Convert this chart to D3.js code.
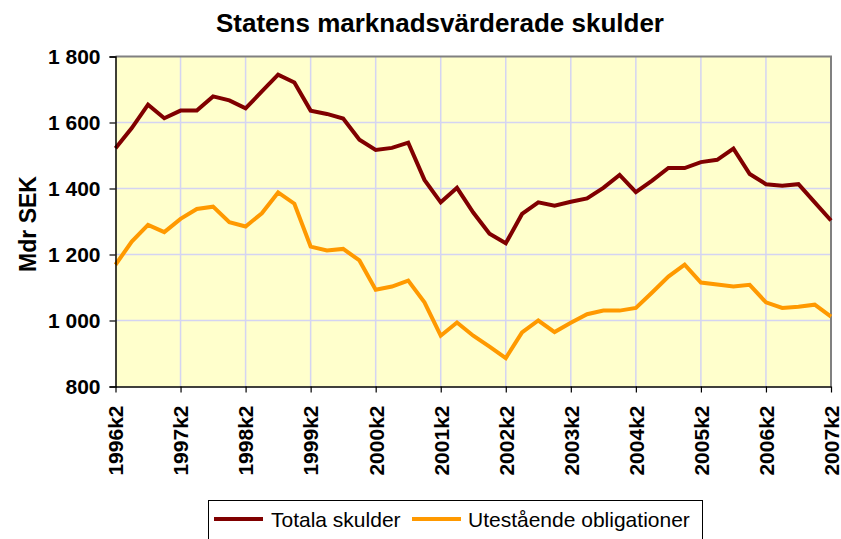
<!DOCTYPE html>
<html>
<head>
<meta charset="utf-8">
<script src="https://cdn.jsdelivr.net/npm/d3@7"></script>
<style>
  body { margin: 0; background: #ffffff; }
  text { font-family: Arial, "Liberation Sans", sans-serif; }
</style>
</head>
<body>
<div id="chart"></div>
<script>
// Quarterly categories, 1996k2 .. 2007k2
const quarters = [
    '1996k2','1996k3','1996k4','1997k1','1997k2','1997k3','1997k4','1998k1',
    '1998k2','1998k3','1998k4','1999k1','1999k2','1999k3','1999k4','2000k1',
    '2000k2','2000k3','2000k4','2001k1','2001k2','2001k3','2001k4','2002k1',
    '2002k2','2002k3','2002k4','2003k1','2003k2','2003k3','2003k4','2004k1',
    '2004k2','2004k3','2004k4','2005k1','2005k2','2005k3','2005k4','2006k1',
    '2006k2','2006k3','2006k4','2007k1','2007k2'
];

// Series values (Mdr SEK)
const totalaSkulder = [
    1522, 1583, 1654, 1613, 1636, 1636, 1679, 1667,
    1643, 1694, 1745, 1721, 1636, 1626, 1612, 1548,
    1517, 1523, 1539, 1426, 1358, 1402, 1327, 1263,
    1234, 1323, 1358, 1348, 1360, 1370, 1402, 1441,
    1389, 1424, 1462, 1462, 1480, 1487, 1521, 1444,
    1413, 1408, 1413, 1358, 1303
];
const utestaendeObligationer = [
    1169, 1239, 1290, 1268, 1308, 1338, 1345, 1298,
    1285, 1325, 1388, 1354, 1224, 1212, 1217, 1182,
    1093, 1103, 1121, 1055,  954,  994,  954,  921,
     886,  964, 1000,  965,  993, 1019, 1030, 1030,
    1038, 1085, 1133, 1169, 1115, 1109, 1103, 1108,
    1055, 1038, 1042, 1048, 1012
];

// Axis ticks
const yTicks = [800, 1000, 1200, 1400, 1600, 1800];
const xTickLabels = ['1996k2','1997k2','1998k2','1999k2','2000k2','2001k2',
                     '2002k2','2003k2','2004k2','2005k2','2006k2','2007k2'];

const series = [
    { name: 'Totala skulder', values: totalaSkulder, color: '#800000' },
    { name: 'Utestående obligationer', values: utestaendeObligationer, color: '#FF9900' }
];

// Dimensions
const width = 841, height = 539;
const margin = { top: 56.5, right: 10, bottom: 152.5, left: 115.5 };
const innerW = width - margin.left - margin.right;
const innerH = height - margin.top - margin.bottom;

const svg = d3.select('#chart')
    .append('svg')
    .attr('width', width)
    .attr('height', height);

// Title
svg.append('text')
    .attr('x', 440)
    .attr('y', 32)
    .attr('text-anchor', 'middle')
    .attr('font-size', 26)
    .attr('font-weight', 'bold')
    .text('Statens marknadsvärderade skulder');

const g = svg.append('g')
    .attr('transform', `translate(${margin.left}, ${margin.top})`);

// Scales
const xScale = d3.scalePoint()
    .domain(quarters)
    .range([0, innerW]);
const yScale = d3.scaleLinear()
    .domain([800, 1800])
    .range([innerH, 0]);

// Plot background
g.append('rect')
    .attr('width', innerW)
    .attr('height', innerH)
    .attr('fill', '#FFFFCC');

// Grid lines
g.selectAll('.hgrid')
    .data(yTicks.slice(1, -1))
    .join('line')
        .attr('x1', 0).attr('x2', innerW)
        .attr('y1', d => yScale(d)).attr('y2', d => yScale(d))
        .attr('stroke', '#D4D4F2')
        .attr('stroke-width', 1.5);
g.selectAll('.vgrid')
    .data(xTickLabels.slice(1, -1))
    .join('line')
        .attr('x1', d => xScale(d)).attr('x2', d => xScale(d))
        .attr('y1', 0).attr('y2', innerH)
        .attr('stroke', '#D4D4F2')
        .attr('stroke-width', 1.5);

// Plot border (top / right)
g.append('path')
    .attr('d', `M0,0 H${innerW} V${innerH}`)
    .attr('fill', 'none')
    .attr('stroke', '#808080')
    .attr('stroke-width', 2);

// Lines
const line = d3.line()
    .x((d, i) => xScale(quarters[i]))
    .y(d => yScale(d));
g.selectAll('.series')
    .data(series)
    .join('path')
        .attr('fill', 'none')
        .attr('stroke', d => d.color)
        .attr('stroke-width', 4)
        .attr('stroke-linejoin', 'miter')
        .attr('d', d => line(d.values));

// Y axis
const yAxis = d3.axisLeft(yScale)
    .tickValues(yTicks)
    .tickSize(6)
    .tickPadding(9)
    .tickFormat(d => d3.format(',')(d).replace(',', ' '));
const yAxisG = g.append('g').call(yAxis);
yAxisG.select('.domain').attr('stroke', '#000').attr('stroke-width', 1.5);
yAxisG.selectAll('.tick line').attr('stroke', '#000').attr('stroke-width', 1.2);
yAxisG.selectAll('.tick text')
    .attr('font-family', 'Arial, "Liberation Sans", sans-serif')
    .attr('font-size', 21)
    .attr('font-weight', 'bold')
    .attr('fill', '#000');

// X axis
const xAxis = d3.axisBottom(xScale)
    .tickValues(xTickLabels)
    .tickSize(6)
    .tickSizeOuter(0);
const xAxisG = g.append('g')
    .attr('transform', `translate(0, ${innerH})`)
    .call(xAxis);
xAxisG.select('.domain').attr('stroke', '#000').attr('stroke-width', 1.5);
xAxisG.selectAll('.tick line').attr('stroke', '#000').attr('stroke-width', 1.2);
xAxisG.selectAll('.tick text')
    .attr('font-family', 'Arial, "Liberation Sans", sans-serif')
    .attr('font-size', 21)
    .attr('font-weight', 'bold')
    .attr('fill', '#000')
    .attr('text-anchor', 'end')
    .attr('dy', '0.35em')
    .attr('transform', 'translate(0, 19) rotate(-90)')
    .attr('x', 0)
    .attr('y', 0);

// Y axis title
svg.append('text')
    .attr('transform', `translate(36, 224) rotate(-90)`)
    .attr('text-anchor', 'middle')
    .attr('font-size', 23)
    .attr('font-weight', 'bold')
    .text('Mdr SEK');

// Legend
const legend = svg.append('g');
legend.append('rect')
    .attr('x', 208.5).attr('y', 500.5)
    .attr('width', 494).attr('height', 45)
    .attr('fill', '#fff')
    .attr('stroke', '#000')
    .attr('stroke-width', 1);
const legendItems = [
    { s: series[0], lx: 214, tx: 271 },
    { s: series[1], lx: 412, tx: 468 }
];
legendItems.forEach(item => {
    legend.append('line')
        .attr('x1', item.lx).attr('x2', item.lx + 49)
        .attr('y1', 519).attr('y2', 519)
        .attr('stroke', item.s.color)
        .attr('stroke-width', 4);
    legend.append('text')
        .attr('x', item.tx)
        .attr('y', 527)
        .attr('font-size', 21)
        .text(item.s.name);
});
</script>
</body>
</html>
